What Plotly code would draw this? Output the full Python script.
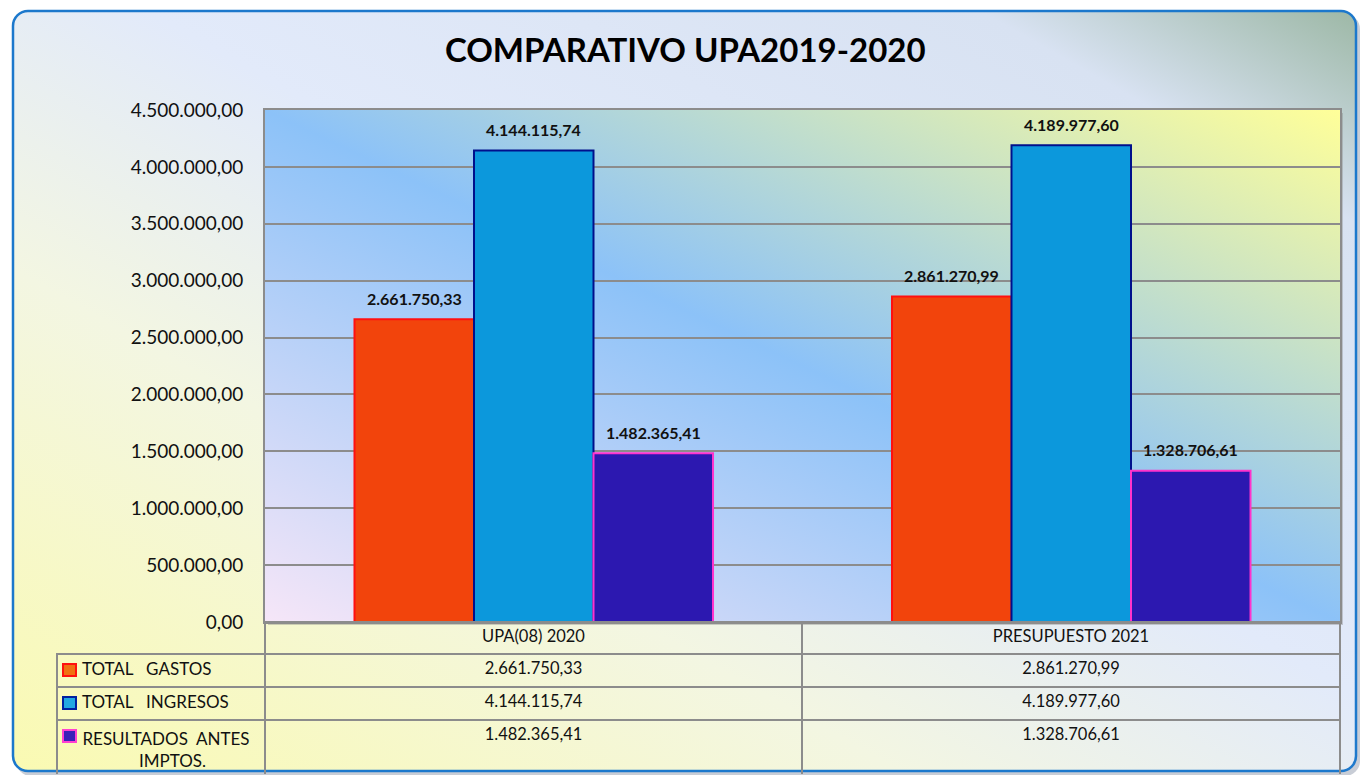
import base64
import plotly.graph_objects as go

categories = ["UPA(08) 2020", "PRESUPUESTO 2021"]
series_names = ["TOTAL\u00a0\u00a0\u00a0GASTOS", "TOTAL\u00a0\u00a0\u00a0INGRESOS", "RESULTADOS\u00a0\u00a0ANTES\u00a0IMPTOS."]
series_names_table = ["TOTAL\u00a0\u00a0\u00a0GASTOS", "TOTAL\u00a0\u00a0\u00a0INGRESOS",
                      "RESULTADOS\u00a0\u00a0ANTES<br>" + "\u00a0" * 17 + "IMPTOS."]
total_gastos = [2661750.33, 2861270.99]
total_ingresos = [4144115.74, 4189977.60]
resultados = [1482365.41, 1328706.61]
y_ticks = [0, 500000, 1000000, 1500000, 2000000, 2500000, 3000000, 3500000, 4000000, 4500000]

W, H = 1365, 775
PL, PR, PT, PB = 265, 1340, 110, 622
FONT = "Lato, 'Open Sans', sans-serif"
BARGAP = 0.333

fills = ["#f2440c", "#0c98dc", "#2c18b0"]
borders = ["#ff1010", "#00108c", "#ff33cc"]
key_fills = ["#f07012", "#22a8e2", "#3a20b8"]
key_lines = ["#ff1010", "#0020a0", "#ff40d0"]
key_rows = [(664, 676), (697, 709), (730, 742)]


def es(v):
    s = f"{v:,.2f}"
    return s.replace(",", "X").replace(".", ",").replace("X", ".")


svg = f"""<svg xmlns='http://www.w3.org/2000/svg' width='{W}' height='{H}' viewBox='0 0 {W} {H}' preserveAspectRatio='none'>
<defs>
<linearGradient id='pg' x1='0' y1='1' x2='1' y2='0'>
<stop offset='0' stop-color='#fafab2'/>
<stop offset='0.33' stop-color='#f3f6e2'/>
<stop offset='0.55' stop-color='#e2eafa'/>
<stop offset='0.86' stop-color='#d8e2f2'/>
<stop offset='1' stop-color='#9db8a6'/>
</linearGradient>
<linearGradient id='ag' x1='1' y1='0' x2='0' y2='1'>
<stop offset='0' stop-color='#ffff99'/>
<stop offset='0.5' stop-color='#8cc2f8'/>
<stop offset='1' stop-color='#f6e6f8'/>
</linearGradient>
</defs>
<rect width='{W}' height='{H}' fill='white'/>
<rect x='16' y='14' width='1344' height='762' rx='15' fill='#9aa4b4' opacity='0.55'/>
<rect x='13' y='11' width='1343' height='760' rx='15' fill='url(#pg)' stroke='#1c78cc' stroke-width='2.5'/>
<rect x='{PL+3}' y='{PT+3}' width='{PR-PL}' height='{PB-PT}' fill='#7a7a7a' opacity='0.35'/>
<rect x='{PL}' y='{PT}' width='{PR-PL}' height='{PB-PT}' fill='url(#ag)'/>
</svg>"""
bg_src = "data:image/svg+xml;base64," + base64.b64encode(svg.encode()).decode()

fig = go.Figure()
series = [total_gastos, total_ingresos, resultados]
for name, vals, f, b in zip(series_names, series, fills, borders):
    fig.add_trace(go.Bar(
        x=categories, y=vals, name=name,
        marker=dict(color=f, line=dict(color=b, width=2)),
        showlegend=False, hoverinfo="x+y+name",
    ))

# data labels above bars
bar_px = (PR - PL) / len(categories) * (1 - BARGAP) / len(series)
annotations = []
for i, vals in enumerate(series):
    for c, v in zip(categories, vals):
        annotations.append(dict(
            x=c, y=v, xref="x", yref="y", text=f"<b>{es(v)}</b>", showarrow=False,
            xshift=(i - 1) * bar_px, yshift=21, yanchor="middle",
            font=dict(family=FONT, size=16, color="#111")))

col0 = ["\u00a0" * 4 + n for n in series_names_table]
col1 = [es(v[0]) for v in series]
col2 = [es(v[1]) for v in series]

fig.add_trace(go.Table(
    domain=dict(x=[57 / W, PR / W], y=[0, 1 - PB / H]),
    columnwidth=[208, 537, 538],
    header=dict(values=[""] + categories, height=32,
                fill=dict(color="rgba(0,0,0,0)"),
                line=dict(color=["rgba(0,0,0,0)", "#8c8c8c", "#8c8c8c"], width=2),
                font=dict(family=FONT, size=16.5, color="#111"), align="center"),
    cells=dict(values=[col0, col1, col2], height=33,
               fill=dict(color="rgba(0,0,0,0)"),
               line=dict(color="#8c8c8c", width=2),
               font=dict(family=FONT, size=[17, 16.5, 16.5], color="#111"),
               align=["left", "center", "center"]),
))

shapes = []
for (y0, y1), fc, lc in zip(key_rows, key_fills, key_lines):
    shapes.append(dict(type="rect", xref="paper", yref="paper",
                       x0=63 / W, x1=76 / W, y0=1 - y1 / H, y1=1 - y0 / H,
                       fillcolor=fc, line=dict(color=lc, width=2)))

fig.update_layout(
    width=W, height=H,
    margin=dict(l=0, r=0, t=0, b=0, autoexpand=False),
    paper_bgcolor="rgba(0,0,0,0)", plot_bgcolor="rgba(0,0,0,0)",
    separators=",.",
    barmode="group", bargap=BARGAP, bargroupgap=0,
    title=dict(text="<b>COMPARATIVO UPA2019-2020</b>", x=0.502, xanchor="center",
               y=1 - 50 / H, yanchor="middle",
               font=dict(family=FONT, size=33, color="#000")),
    images=[dict(source=bg_src, xref="paper", yref="paper", x=0, y=1,
                 sizex=1, sizey=1, xanchor="left", yanchor="top",
                 sizing="stretch", layer="below")],
    xaxis=dict(domain=[PL / W, PR / W], showticklabels=False, showline=True,
               linecolor="#8c8c8c", linewidth=2, mirror=True, ticks="", automargin=False),
    yaxis=dict(domain=[1 - PB / H, 1 - PT / H], range=[0, 4500000], tickvals=y_ticks,
               tickformat=",.2f", automargin=False,
               showgrid=True, gridcolor="#8c8c8c", gridwidth=1.5,
               showline=True, linecolor="#8c8c8c", linewidth=2, mirror=True,
               ticks="", ticklabelstandoff=16,
               tickfont=dict(family=FONT, size=19, color="#111"), zeroline=False),
    annotations=annotations,
    shapes=shapes,
    font=dict(family=FONT),
)

fig.write_html("out.html")
